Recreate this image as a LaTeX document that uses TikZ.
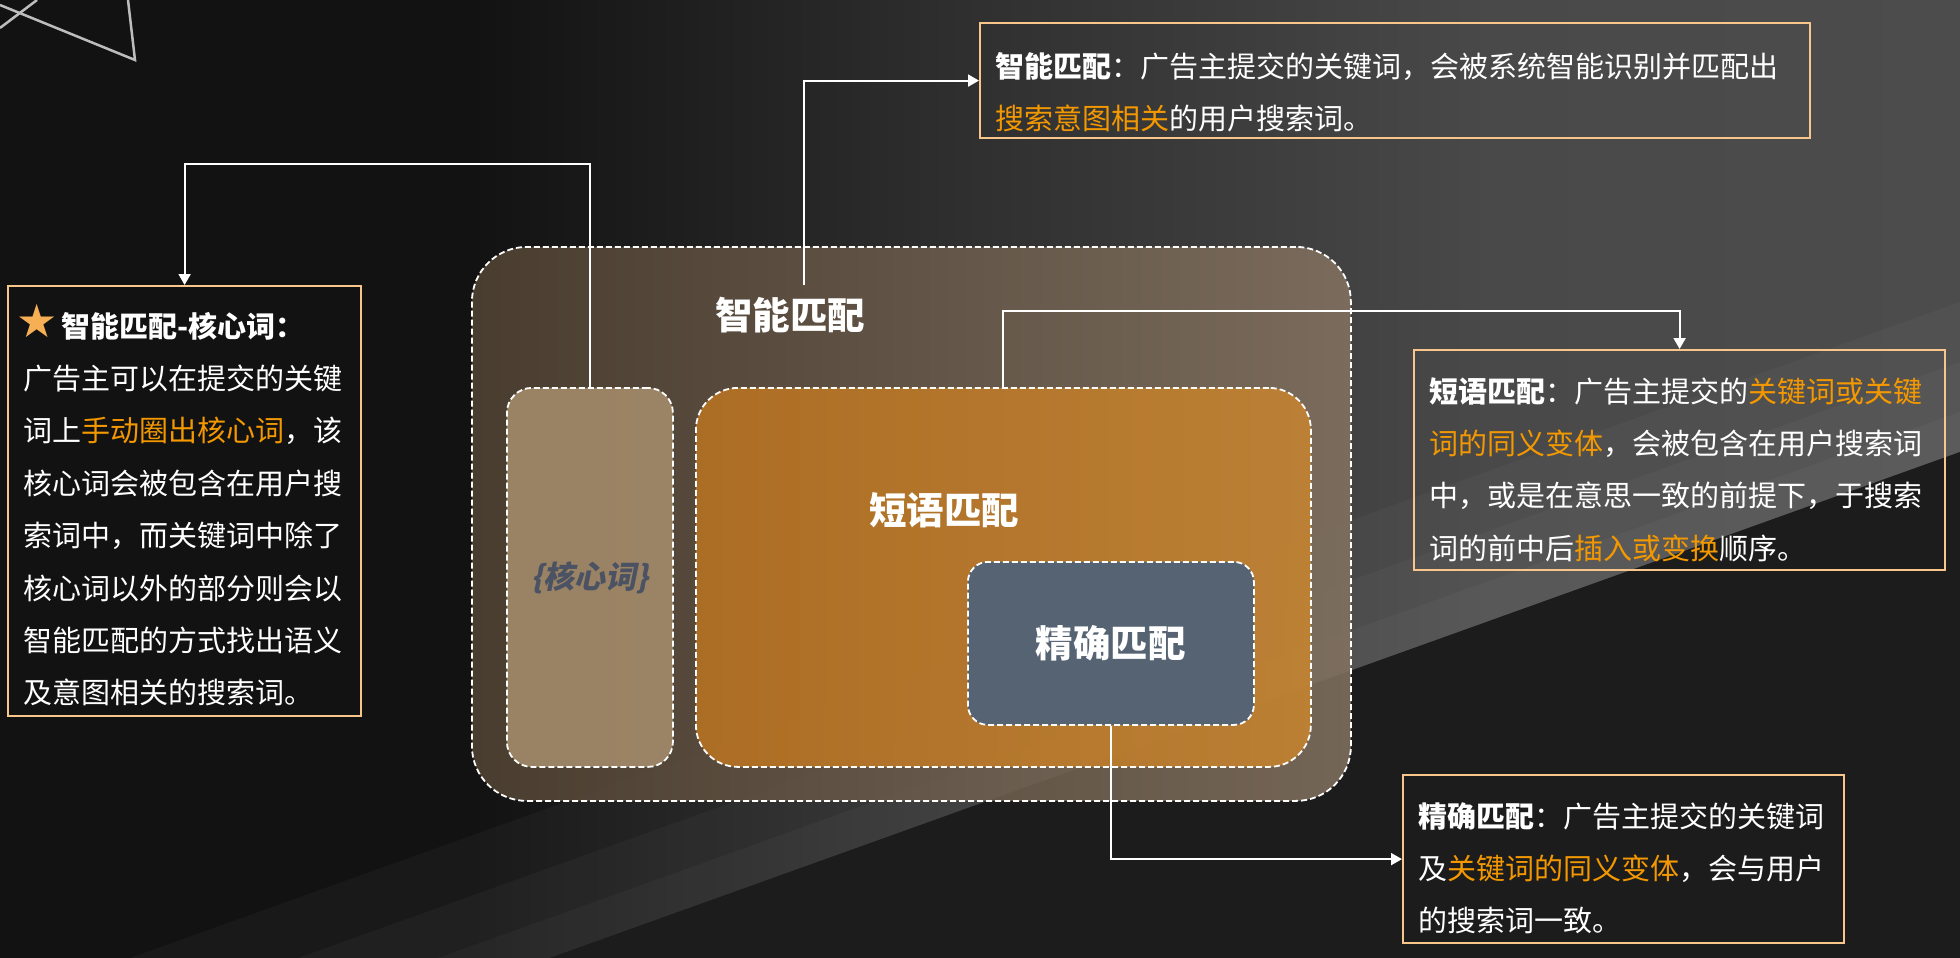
\documentclass[tikz,border=0pt]{standalone}
\usepackage{fontspec}
\setmainfont{Noto Sans CJK SC}
\newfontfamily\symfont{DejaVu Sans}
\newfontfamily\slantfont[FakeSlant=0.2]{Noto Sans CJK SC}
\usetikzlibrary{arrows.meta}

% colours
\definecolor{bgA}{HTML}{121212}
\definecolor{bgB}{HTML}{303030}
\definecolor{bgC}{HTML}{494949}
\definecolor{bgD}{HTML}{4C4C4C}
\definecolor{bgdark}{HTML}{1C1C1C}
\definecolor{decogray}{HTML}{BDBDBD}
\definecolor{noteedge}{HTML}{F8C68A}
\definecolor{keyorange}{HTML}{F39800}
\definecolor{starorange}{HTML}{F7AF55}
\definecolor{smartleft}{HTML}{534535}
\definecolor{smartright}{HTML}{847361}
\definecolor{corefill}{HTML}{A88E6D}
\definecolor{coretext}{HTML}{4A5263}
\definecolor{phraseleft}{HTML}{BC7420}
\definecolor{phraseright}{HTML}{C8852F}
\definecolor{exactfill}{HTML}{566372}

\pgfdeclarehorizontalshading{bgshade}{100bp}{color(0bp)=(bgA); color(37bp)=(bgA);
  color(50bp)=(bgB); color(63bp)=(bgC); color(75bp)=(bgD); color(100bp)=(bgD)}

\newcommand{\orangetext}[1]{\textcolor{keyorange}{#1}}

\begin{document}
\begin{tikzpicture}[x=1pt, y=-1pt,
    zone/.style={draw=white, line width=1.8pt, dash pattern=on 6pt off 3pt,
      anchor=north west, inner sep=0pt},
    zonetitle/.style={text=white, font={\fontsize{37.5}{40}\selectfont\bfseries}},
    note/.style={draw=noteedge, line width=2.2pt, text=white, align=left,
      anchor=north west, inner xsep=15pt, inner ysep=0pt,
      font={\fontsize{29}{52.4}\selectfont}},
    link/.style={draw=white, line width=2pt, -{Triangle[width=12pt,length=11pt]}},
    deco/.style={draw=decogray, line width=2.5pt}]

    % Background
    \useasboundingbox (0,0) rectangle (1960,958);
    \shade[shading=bgshade] (0,0) rectangle (1960,958);
    \foreach \w in {40,90,150}
        \fill[white, opacity=0.03] (550-\w*2.8,958) -- (1960,452-\w) -- (1960,452) -- (550,958) -- cycle;
    \fill[bgdark] (550,958) -- (1960,452) -- (1960,958) -- cycle;
    \draw[deco] (37,0) -- (0,28);
    \draw[deco] (0,5) -- (135,60) -- (128,0);

    % Match zones
    \node[zone, rounded corners=55pt, left color=smartleft, right color=smartright,
      fill opacity=0.85, minimum width=879pt, minimum height=554pt] (smart) at (471,246) {};
    \node[zone, rounded corners=25pt, fill=corefill, fill opacity=0.85, text opacity=1,
      minimum width=166pt, minimum height=379pt, text=coretext,
      font={\fontsize{31}{34}\slantfont\bfseries}] (core) at (506,387) {\{核心词\}};
    \node[zone, rounded corners=42pt, left color=phraseleft, right color=phraseright,
      fill opacity=0.85, minimum width=615pt, minimum height=379pt] (phrase) at (695,387) {};
    \node[zone, rounded corners=20pt, fill=exactfill, minimum width=286pt, minimum height=163pt,
      text=white, font={\fontsize{37.5}{40}\selectfont\bfseries}] (exact) at (967,561) {精确匹配};

    % Zone titles
    \node[zonetitle] (smarttitle) at (790,315) {智能匹配};
    \node[zonetitle] (phrasetitle) at (944,510) {短语匹配};

    % Notes
    \node[note, text width=800pt, text height=54pt, text depth=61pt] (topnote) at (979,22)
      {{\bfseries 智能匹配}：广告主提交的关键词，会被系统智能识别并匹配出\\
       \orangetext{搜索意图相关}的用户搜索词。};
    \node[note, text width=323pt, text height=51pt, text depth=379pt] (starnote) at (7,285)
      {\hspace*{-7pt}\smash{\textcolor{starorange}{\symfont\fontsize{46}{46}\selectfont ★}}\hspace{4pt}{\bfseries 智能匹配-核心词：}\\
       广告主可以在提交的关键\\
       词上\orangetext{手动圈出核心词}，该\\
       核心词会被包含在用户搜\\
       索词中，而关键词中除了\\
       核心词以外的部分则会以\\
       智能匹配的方式找出语义\\
       及意图相关的搜索词。};
    \node[note, text width=501pt, text height=52pt, text depth=168pt] (phrasenote) at (1413,349)
      {{\bfseries 短语匹配}：广告主提交的\orangetext{关键词或关键}\\
       \orangetext{词的同义变体}，会被包含在用户搜索词\\
       中，或是在意思一致的前提下，于搜索\\
       词的前中后\orangetext{插入或变换}顺序。};
    \node[note, text width=411pt, text height=52pt, text depth=116pt] (exactnote) at (1402,774)
      {{\bfseries 精确匹配}：广告主提交的关键词\\
       及\orangetext{关键词的同义变体}，会与用户\\
       的搜索词一致。};

    % Links
    \coordinate (smarttop) at (804,285);
    \draw[link] (smarttop) |- (topnote.west);
    \draw[link] (core.north) -- (core.north |- 0,164) -| (starnote.north);
    \draw[link] (phrase.north) -- (phrase.north |- 0,311) -| (phrasenote.north);
    \draw[link] (exact.south) |- (exactnote.west);

\end{tikzpicture}
\end{document}
